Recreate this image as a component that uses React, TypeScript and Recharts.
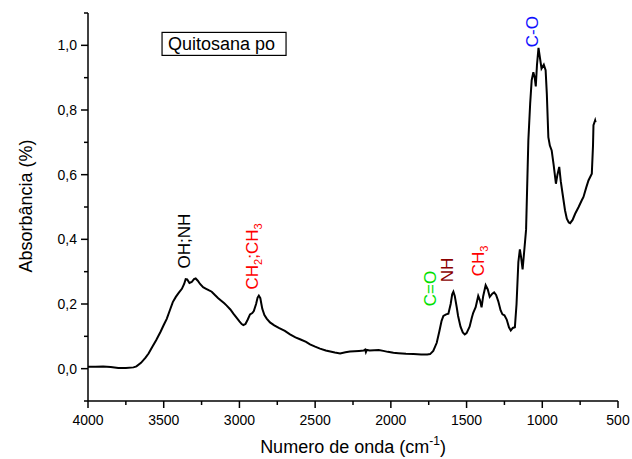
import React from "react";
import { LineChart, Line, XAxis, YAxis, ReferenceDot, Label } from "recharts";

// wavenumber (cm-1) and absorbance
const waveNumbers = [
  4000, 3950, 3900, 3850, 3800, 3750, 3700, 3680, 3650, 3620, 3600, 3575, 3550, 3520, 3500, 3480,
  3460, 3440, 3420, 3400, 3380, 3365, 3355, 3345, 3330, 3315, 3300, 3289, 3275, 3260, 3240, 3220,
  3200, 3183, 3160, 3140, 3120, 3100, 3084, 3060, 3040, 3018, 3000, 2985, 2974, 2960, 2945, 2930,
  2915, 2905, 2890, 2880, 2872, 2862, 2855, 2849, 2835, 2820, 2798, 2770, 2740, 2700, 2666, 2630,
  2600, 2560, 2534, 2500, 2468, 2430, 2400, 2370, 2335, 2300, 2270, 2240, 2210, 2180, 2170, 2165,
  2159, 2140, 2110, 2080, 2050, 2020, 1983, 1950, 1900, 1850, 1800, 1760, 1741, 1720, 1697, 1680,
  1665, 1653, 1635, 1620, 1605, 1595, 1587, 1578, 1565, 1556, 1540, 1525, 1512, 1500, 1480, 1465,
  1456, 1440, 1423, 1412, 1401, 1390, 1374, 1360, 1347, 1330, 1318, 1305, 1291, 1275, 1263, 1250,
  1235, 1220, 1208, 1195, 1181, 1170, 1158, 1148, 1140, 1130, 1120, 1107, 1092, 1080, 1070, 1059,
  1050, 1043, 1035, 1025, 1015, 1005, 990, 978, 970, 960, 950, 938, 925, 910, 900, 888,
  878, 866, 850, 838, 825, 816, 800, 783, 760, 740, 728, 710, 695, 673, 665, 662,
  651, 648,
];
const absorbance = [
  0.006, 0.006, 0.007, 0.005, 0.002, 0.002, 0.004, 0.007, 0.018, 0.034, 0.047, 0.068, 0.088, 0.115, 0.135, 0.154,
  0.18, 0.206, 0.222, 0.235, 0.247, 0.262, 0.277, 0.276, 0.265, 0.268, 0.277, 0.279, 0.272, 0.262, 0.252, 0.247,
  0.242, 0.238, 0.227, 0.218, 0.21, 0.202, 0.195, 0.183, 0.17, 0.157, 0.146, 0.138, 0.135, 0.138, 0.152, 0.168,
  0.172, 0.178, 0.2, 0.22, 0.226, 0.218, 0.2, 0.185, 0.166, 0.155, 0.143, 0.134, 0.126, 0.117, 0.106, 0.097,
  0.091, 0.083, 0.075, 0.068, 0.062, 0.056, 0.053, 0.05, 0.047, 0.051, 0.053, 0.054, 0.055, 0.056, 0.059, 0.051,
  0.058, 0.056, 0.057, 0.058, 0.055, 0.052, 0.049, 0.048, 0.046, 0.045, 0.044, 0.044, 0.045, 0.055, 0.08, 0.115,
  0.148, 0.163, 0.168, 0.17, 0.2, 0.23, 0.238, 0.225, 0.19, 0.163, 0.13, 0.112, 0.106, 0.11, 0.13, 0.158,
  0.173, 0.19, 0.225, 0.212, 0.19, 0.225, 0.258, 0.245, 0.222, 0.232, 0.236, 0.228, 0.209, 0.18, 0.168, 0.165,
  0.152, 0.128, 0.118, 0.126, 0.128, 0.2, 0.33, 0.369, 0.345, 0.307, 0.36, 0.43, 0.706, 0.82, 0.892, 0.917,
  0.9, 0.873, 0.94, 0.992, 0.96, 0.928, 0.94, 0.923, 0.85, 0.716, 0.69, 0.675, 0.63, 0.572, 0.6, 0.624,
  0.58, 0.541, 0.49, 0.464, 0.452, 0.45, 0.46, 0.479, 0.5, 0.52, 0.531, 0.56, 0.582, 0.603, 0.69, 0.753,
  0.768, 0.762,
];

const xTicks = [4000, 3750, 3500, 3250, 3000, 2750, 2500, 2250, 2000, 1750, 1500, 1250, 1000, 750, 500];
const yTicks = [-0.1, 0, 0.1, 0.2, 0.3, 0.4, 0.5, 0.6, 0.7, 0.8, 0.9, 1.0, 1.1];

// band labels: text pieces (sub = subscript) anchored at (wn, abs)
const bands = [
  { wn: 3326, abs: 0.31, parts: [{ t: "OH;NH" }] },
  { wn: 2877, abs: 0.245, parts: [{ t: "CH" }, { t: "2", sub: true }, { t: ";CH" }, { t: "3", sub: true }] },
  { wn: 1701, abs: 0.193, parts: [{ t: "C=O" }] },
  { wn: 1589, abs: 0.267, parts: [{ t: "NH" }] },
  { wn: 1384, abs: 0.286, parts: [{ t: "CH" }, { t: "3", sub: true }] },
  { wn: 1028, abs: 0.994, parts: [{ t: "C-O" }] },
];
const bandColors = ["#000000", "#ff0000", "#00e000", "#8b0000", "#ff0000", "#1010ff"];

const sampleName = "Quitosana po";
const legendAt = { wn: 3511, abs: 1.04 };

const data = waveNumbers.map((wn, i) => ({ wn, abs: absorbance[i] }));

const font = "Arial, 'Liberation Sans', sans-serif";

const XTick = (props: any) => {
  const { x, y, payload } = props;
  const major = payload.value % 500 === 0;
  return (
    <g>
      <line x1={x} x2={x} y1={y} y2={y + (major ? 7 : 4)} stroke="#000" strokeWidth={1.5} />
      {major && (
        <text x={x} y={y + 24} textAnchor="middle" fontSize={14} fontFamily={font} fill="#000">
          {payload.value}
        </text>
      )}
    </g>
  );
};

const YTick = (props: any) => {
  const { x, y, payload } = props;
  const v = payload.value;
  const major = Math.abs(Math.round(v * 10)) % 2 === 0;
  return (
    <g>
      <line x1={x} x2={x - (major ? 7 : 4)} y1={y} y2={y} stroke="#000" strokeWidth={1.5} />
      {major && (
        <text x={x - 11} y={y} dy="0.36em" textAnchor="end" fontSize={14} fontFamily={font} fill="#000">
          {v.toFixed(1).replace(".", ",")}
        </text>
      )}
    </g>
  );
};

const BandText = ({ cx, cy, idx }: any) => {
  const b = bands[idx];
  return (
    <text
      x={cx}
      y={cy}
      transform={`rotate(-90 ${cx} ${cy})`}
      dy="0.36em"
      fontSize={17}
      fontFamily={font}
      fill={bandColors[idx]}
    >
      {b.parts.map((p: any, k: number) => (
        <tspan key={k} fontSize={p.sub ? 11 : 17} dy={p.sub ? 4 : k > 0 && b.parts[k - 1].sub ? -4 : 0}>
          {p.t}
        </tspan>
      ))}
    </text>
  );
};

const LegendBox = ({ cx, cy }: any) => (
  <g>
    <rect x={cx} y={cy} width={124} height={23} fill="#fff" stroke="#000" strokeWidth={1.2} />
    <text x={cx + 6} y={cy + 18} fontSize={18} fontFamily={font} fill="#000">
      {sampleName}
    </text>
  </g>
);

export default function App() {
  return (
    <div style={{ position: "absolute", left: 0, top: 0, background: "#fff" }}>
      <LineChart width={632} height={459} data={data} margin={{ top: 13, right: 14, bottom: 0, left: 0 }}>
        <XAxis
          dataKey="wn"
          type="number"
          domain={[500, 4000]}
          reversed
          ticks={xTicks}
          interval={0}
          tick={<XTick />}
          tickLine={false}
          tickSize={0}
          tickMargin={0}
          axisLine={{ stroke: "#000", strokeWidth: 1.5 }}
          height={58}
          allowDataOverflow
        >
          <Label
            content={(p: any) => {
              const vb = p.viewBox;
              const cx = vb.x + vb.width / 2;
              return (
                <text x={cx} y={vb.y + 52} textAnchor="middle" fontSize={18} fontFamily={font} fill="#000">
                  Numero de onda (cm
                  <tspan fontSize={12} dy={-8}>-1</tspan>
                  <tspan dy={8}>)</tspan>
                </text>
              );
            }}
          />
        </XAxis>
        <YAxis
          type="number"
          domain={[-0.1, 1.1]}
          ticks={yTicks}
          interval={0}
          tick={<YTick />}
          tickLine={false}
          tickSize={0}
          tickMargin={0}
          axisLine={{ stroke: "#000", strokeWidth: 1.5 }}
          width={88}
          allowDataOverflow
        >
          <Label
            content={() => (
              <text
                x={32}
                y={206}
                transform="rotate(-90 32 206)"
                textAnchor="middle"
                fontSize={18}
                fontFamily={font}
                fill="#000"
              >
                Absorbância (%)
              </text>
            )}
          />
        </YAxis>
        <Line
          type="linear"
          dataKey="abs"
          stroke="#000"
          strokeWidth={2}
          dot={false}
          isAnimationActive={false}
        />
        {bands.map((b, i) => (
          <ReferenceDot
            key={i}
            x={b.wn}
            y={b.abs}
            r={0}
            ifOverflow="visible"
            shape={(p: any) => <BandText cx={p.cx} cy={p.cy} idx={i} />}
          />
        ))}
        <ReferenceDot
          x={legendAt.wn}
          y={legendAt.abs}
          r={0}
          ifOverflow="visible"
          shape={(p: any) => <LegendBox cx={p.cx} cy={p.cy} />}
        />
      </LineChart>
    </div>
  );
}
